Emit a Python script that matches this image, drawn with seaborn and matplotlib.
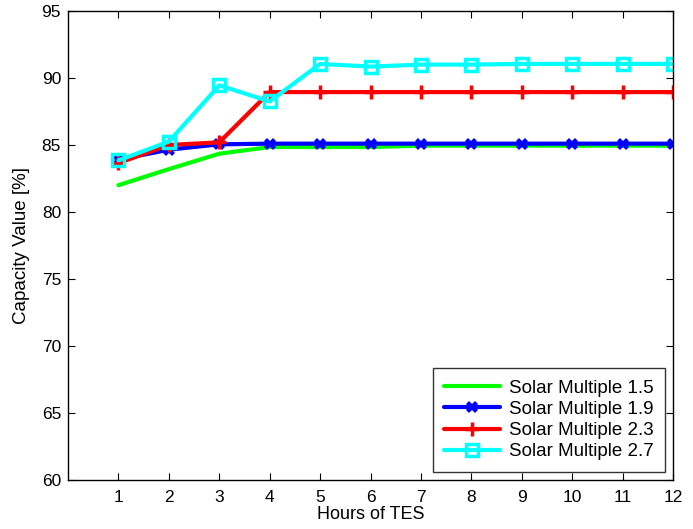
import matplotlib
matplotlib.use('Agg')
import matplotlib.pyplot as plt
import seaborn as sns

hours = list(range(1, 13))
sm_15 = [82.0, 83.2, 84.35, 84.85, 84.85, 84.85, 84.95, 84.95, 84.95, 84.95, 84.95, 84.95]
sm_19 = [83.9, 84.65, 85.05, 85.1, 85.1, 85.1, 85.1, 85.1, 85.1, 85.1, 85.1, 85.1]
sm_23 = [83.65, 85.0, 85.2, 88.95, 88.95, 88.95, 88.95, 88.95, 88.95, 88.95, 88.95, 88.95]
sm_27 = [83.85, 85.25, 89.45, 88.25, 91.05, 90.85, 91.0, 91.0, 91.05, 91.05, 91.05, 91.05]
labels = ['Solar Multiple 1.5', 'Solar Multiple 1.9', 'Solar Multiple 2.3', 'Solar Multiple 2.7']

sns.set_style('ticks', {'text.color': 'black', 'axes.labelcolor': 'black',
                        'xtick.color': 'black', 'ytick.color': 'black',
                        'axes.edgecolor': 'black'})
plt.rcParams['font.family'] = ['Liberation Sans', 'DejaVu Sans']

fig = plt.figure(figsize=(6.93, 5.29), dpi=100)
ax = fig.add_axes([68 / 693, 1 - 480 / 529, (673 - 68) / 693, (480 - 11) / 529])

# style per series: color, marker, marker size, face color, edge width
styles = [
    ('#00ff00', None, 0, None, 0),
    ('#0000ff', 'X', 8, '#0000ff', 0),
    ('#ff0000', '+', 10, '#ff0000', 2.5),
    ('#00ffff', 's', 9, 'none', 2.5),
]
for vals, lab, (c, m, ms, fc, mew) in zip([sm_15, sm_19, sm_23, sm_27], labels, styles):
    kw = dict(marker=m, markersize=ms, markeredgewidth=mew, markeredgecolor=c) if m else {}
    if fc is not None:
        kw['markerfacecolor'] = fc
    sns.lineplot(x=hours, y=vals, color=c, linewidth=3, label=lab, ax=ax, **kw)

ax.set_xlim(0, 12)
ax.set_ylim(60, 95)
ax.set_xticks(hours)
ax.set_yticks(range(60, 96, 5))
ax.tick_params(direction='in', labelsize=12.5, top=True, right=True, length=5)
ax.tick_params(axis='x', pad=7)
ax.tick_params(axis='y', pad=5)
for s in ax.spines.values():
    s.set_visible(True)
    s.set_linewidth(1)
ax.set_xlabel('Hours of TES', fontsize=13, labelpad=1)
ax.set_ylabel('Capacity Value [%]', fontsize=13.5, labelpad=8)
leg = ax.legend(loc='lower right', fontsize=13.5, frameon=True, fancybox=False,
                edgecolor='black', handlelength=3.0, handletextpad=0.45,
                borderpad=0.6, labelspacing=0.22, borderaxespad=0.45)
leg.get_frame().set_linewidth(1)

fig.savefig('out.png', dpi=100)
